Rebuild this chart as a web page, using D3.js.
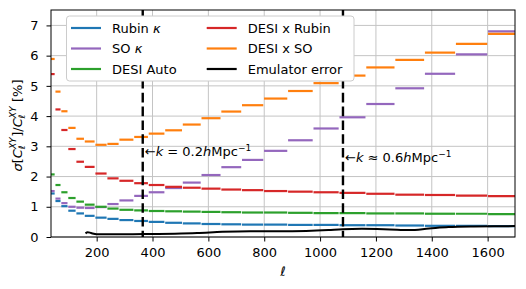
<!DOCTYPE html>
<html>
<head>
<meta charset="utf-8">
<script src="https://cdn.jsdelivr.net/npm/d3@7"></script>
<style>
  html, body { margin: 0; padding: 0; background: #fff; }
  svg { display: block; }
  text { font-family: "DejaVu Sans", sans-serif; white-space: pre; }
</style>
</head>
<body>
<svg id="chart" width="526" height="289"></svg>
<script>
// ---- data ----
const binEdges = [30, 51, 72, 97, 126, 156, 194, 237, 280, 333, 385, 444, 507, 574, 645, 719, 798, 884, 975, 1068, 1164, 1268, 1374, 1485, 1600, 1720];
const rubinK    = [1.44, 1.19, 1.02, 0.87, 0.78, 0.70, 0.64, 0.60, 0.56, 0.53, 0.50, 0.47, 0.45, 0.43, 0.42, 0.41, 0.41, 0.40, 0.40, 0.39, 0.39, 0.38, 0.37, 0.37, 0.36];
const soK       = [1.52, 1.27, 1.12, 1.00, 0.97, 0.96, 0.99, 1.09, 1.21, 1.36, 1.48, 1.62, 1.80, 2.05, 2.31, 2.55, 2.85, 3.20, 3.59, 3.96, 4.40, 4.92, 5.40, 6.04, 6.80];
const desiAuto  = [2.07, 1.72, 1.48, 1.29, 1.17, 1.07, 1.00, 0.94, 0.90, 0.88, 0.86, 0.85, 0.84, 0.83, 0.82, 0.81, 0.81, 0.80, 0.79, 0.79, 0.78, 0.78, 0.77, 0.77, 0.76];
const desiRubin = [5.39, 4.22, 3.54, 2.91, 2.49, 2.32, 2.10, 1.94, 1.86, 1.78, 1.72, 1.66, 1.63, 1.60, 1.57, 1.55, 1.52, 1.50, 1.48, 1.46, 1.43, 1.40, 1.39, 1.37, 1.35];
const desiSO    = [5.89, 4.81, 4.16, 3.61, 3.25, 3.16, 3.05, 3.08, 3.22, 3.31, 3.42, 3.53, 3.72, 3.93, 4.15, 4.36, 4.58, 4.83, 5.09, 5.34, 5.61, 5.86, 6.10, 6.39, 6.72];
const emuEll = [160, 168, 180, 200, 300, 400, 480, 560, 650, 750, 850, 950, 1030, 1080, 1150, 1250, 1320, 1390, 1460, 1550, 1700];
const emuErr = [0.12, 0.16, 0.13, 0.09, 0.09, 0.10, 0.11, 0.13, 0.17, 0.19, 0.19, 0.20, 0.23, 0.26, 0.27, 0.25, 0.23, 0.28, 0.33, 0.35, 0.36];
const kLines = [365, 1082];
const xTicks = [200, 400, 600, 800, 1000, 1200, 1400, 1600];
const yTicks = [0, 1, 2, 3, 4, 5, 6, 7];

const series = [
  { name: "Rubin κ", values: rubinK, color: "#1f77b4", math: true },
  { name: "SO κ", values: soK, color: "#9467bd", math: true },
  { name: "DESI Auto", values: desiAuto, color: "#2ca02c" },
  { name: "DESI x Rubin", values: desiRubin, color: "#d62728" },
  { name: "DESI x SO", values: desiSO, color: "#ff7f0e" }
];

// ---- layout ----
const L = 51, R = 515, T = 10, B = 237;
const svg = d3.select("#chart");
const x = d3.scaleLinear().domain([36.5, 1698]).range([L, R]);
const y = d3.scaleLinear().domain([0, 7.51]).range([B, T]);

svg.append("defs").append("clipPath").attr("id", "clip")
  .append("rect").attr("x", L).attr("y", T).attr("width", R - L).attr("height", B - T);

// grid
const grid = svg.append("g");
xTicks.forEach(t => grid.append("line").attr("x1", x(t)).attr("x2", x(t)).attr("y1", T).attr("y2", B)
  .attr("stroke", "#c4c4c4").attr("stroke-width", 1));
yTicks.forEach(t => grid.append("line").attr("x1", L).attr("x2", R).attr("y1", y(t)).attr("y2", y(t))
  .attr("stroke", "#c4c4c4").attr("stroke-width", 1));

const plot = svg.append("g").attr("clip-path", "url(#clip)");

// step segments
series.forEach(s => {
  plot.append("g").selectAll("line").data(s.values).join("line")
    .attr("x1", (d, i) => x(binEdges[i]) + 0.4)
    .attr("x2", (d, i) => x(binEdges[i + 1]) - 0.4)
    .attr("y1", d => y(d)).attr("y2", d => y(d))
    .attr("stroke", s.color).attr("stroke-width", 2.2);
});

// emulator error
const emu = emuEll.map((l, i) => [l, emuErr[i]]);
plot.append("path").datum(emu)
  .attr("d", d3.line().x(d => x(d[0])).y(d => y(d[1])).curve(d3.curveMonotoneX))
  .attr("fill", "none").attr("stroke", "#000").attr("stroke-width", 2);

// dashed k lines
kLines.forEach(l => plot.append("line").attr("x1", x(l)).attr("x2", x(l)).attr("y1", T).attr("y2", B)
  .attr("stroke", "#000").attr("stroke-width", 2.4).attr("stroke-dasharray", "9.6,4.2"));

// axes
const xAxis = svg.append("g").attr("transform", `translate(0,${B})`)
  .call(d3.axisBottom(x).tickValues(xTicks).tickSize(4.5).tickPadding(6).tickFormat(d3.format("d")));
const yAxis = svg.append("g").attr("transform", `translate(${L},0)`)
  .call(d3.axisLeft(y).tickValues(yTicks).tickSize(4.5).tickPadding(8).tickFormat(d3.format("d")));
[xAxis, yAxis].forEach(a => {
  a.select(".domain").remove();
  a.selectAll("line").attr("stroke", "#000").attr("stroke-width", 1);
  a.selectAll("text").attr("font-size", 13).attr("fill", "#000").attr("font-family", "DejaVu Sans");
});
xAxis.selectAll("text").attr("dy", "0.71em");

// frame
svg.append("rect").attr("x", L).attr("y", T).attr("width", R - L).attr("height", B - T)
  .attr("fill", "none").attr("stroke", "#000").attr("stroke-width", 1);

// annotations
function kLabel(px, py, rel, val) {
  const t = svg.append("text").attr("x", px).attr("y", py).attr("font-size", 13);
  t.append("tspan").text("←");
  t.append("tspan").attr("font-style", "italic").text("k");
  t.append("tspan").text(" " + rel + " " + val);
  t.append("tspan").attr("font-style", "italic").text("h");
  t.append("tspan").text("Mpc");
  t.append("tspan").attr("font-size", 9).attr("dy", -5).text("−1");
}
kLabel(x(kLines[0]) + 2, 156, "=", "0.2");
kLabel(x(kLines[1]) + 2, 162, "≈", "0.6");

// x label
svg.append("text").attr("x", (L + R) / 2).attr("y", 276).attr("text-anchor", "middle")
  .attr("font-size", 13).attr("font-style", "italic").text("ℓ");

// y label (mathtext-like)
const yl = svg.append("g");
let cx = 0;
function part(str, opts = {}) {
  const t = yl.append("text").attr("x", cx).attr("y", opts.dy || 0)
    .attr("font-size", opts.size || 13).attr("font-style", opts.italic ? "italic" : "normal").text(str);
  const w = t.node().getComputedTextLength();
  if (!opts.noAdvance) cx += w;
  return w;
}
function stacked() {
  const start = cx;
  const w1 = part("XY", { size: 9.1, italic: true, dy: -6, noAdvance: true });
  const w2 = part("ℓ", { size: 9.1, italic: true, dy: 3, noAdvance: true });
  cx = start + Math.max(w1, w2) + 0.5;
}
part("σ", { italic: true });
part("[");
part("C", { italic: true });
stacked();
part("]");
part("/");
part("C", { italic: true });
stacked();
cx += 4;
part("[%]");
const yLen = cx;
yl.attr("transform", `translate(22,${(T + B) / 2 + 2 + yLen / 2}) rotate(-90)`);

// legend
const lg = svg.append("g");
lg.append("rect").attr("x", 66.5).attr("y", 16).attr("width", 287.5).attr("height", 65).attr("rx", 3)
  .attr("fill", "#fff").attr("fill-opacity", 1).attr("stroke", "#cccccc").attr("stroke-width", 1);
const legendItems = [
  { s: series[0], col: 0, row: 0 },
  { s: series[1], col: 0, row: 1 },
  { s: series[2], col: 0, row: 2 },
  { s: series[3], col: 1, row: 0 },
  { s: series[4], col: 1, row: 1 },
  { s: { name: "Emulator error", color: "#000" }, col: 1, row: 2 }
];
const colX = [71, 206.7];
const rowY = [28, 48.5, 69];
legendItems.forEach(it => {
  const lx = colX[it.col], ly = rowY[it.row];
  lg.append("line").attr("x1", lx).attr("x2", lx + 30).attr("y1", ly).attr("y2", ly)
    .attr("stroke", it.s.color).attr("stroke-width", 2.2);
  const t = lg.append("text").attr("x", lx + 41).attr("y", ly + 4.7).attr("font-size", 13);
  if (it.s.math) {
    const parts = it.s.name.split(" ");
    t.append("tspan").text(parts[0] + " ");
    t.append("tspan").attr("font-style", "italic").text(parts[1]);
  } else {
    t.text(it.s.name);
  }
});
</script>
</body>
</html>
